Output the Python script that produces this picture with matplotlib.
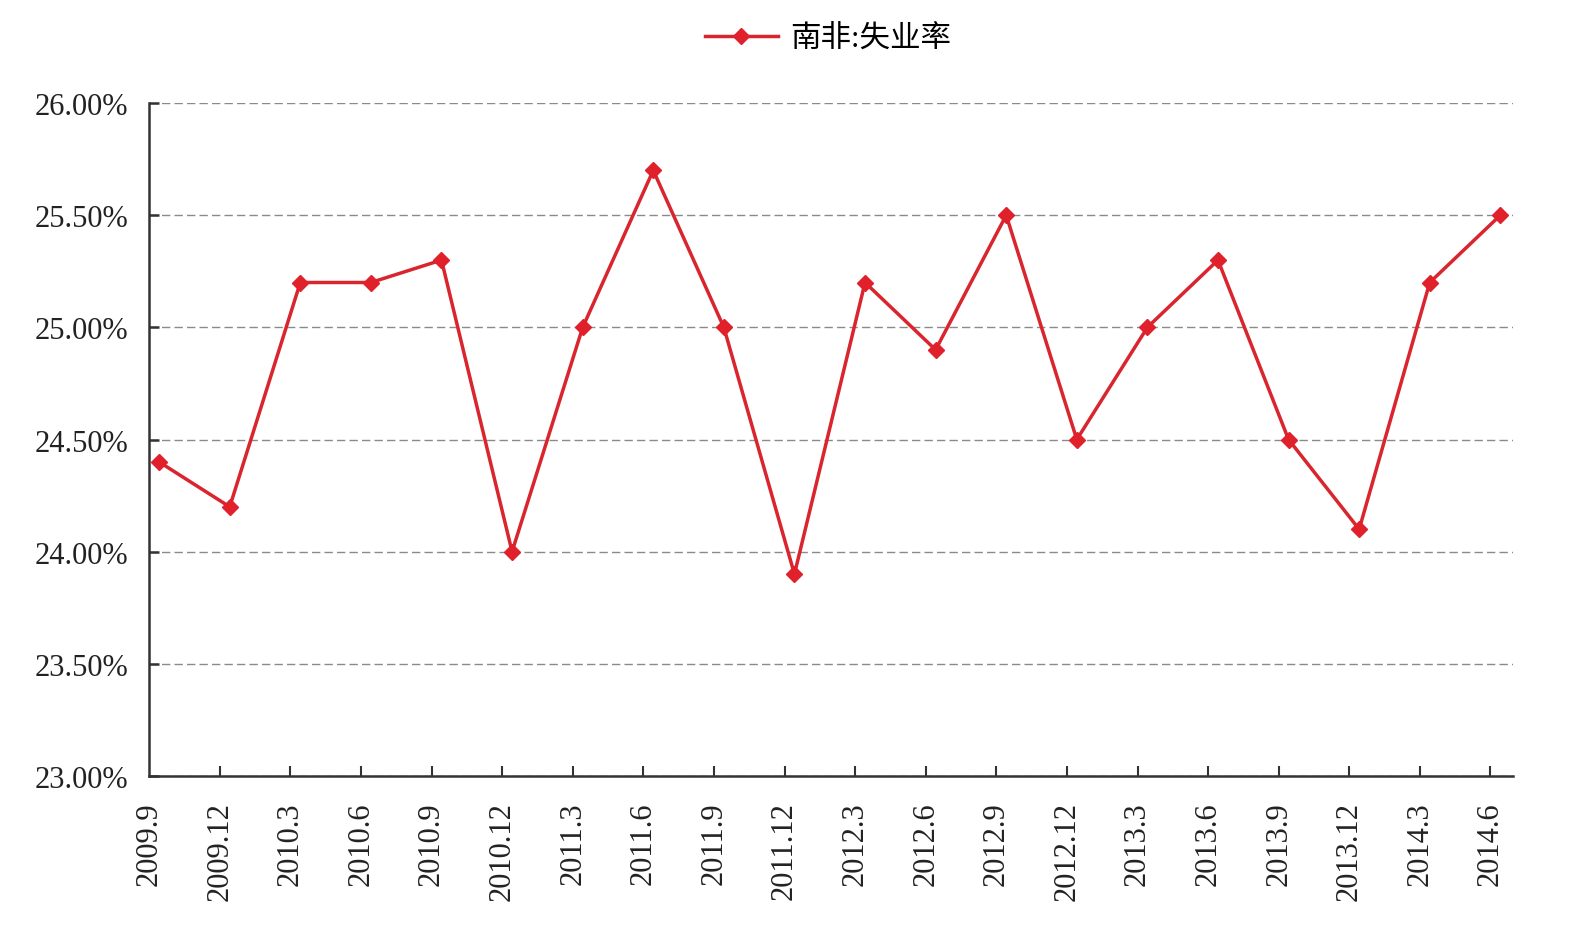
import matplotlib.pyplot as plt
import numpy as np

# Data
quarters = ["2009.9", "2009.12", "2010.3", "2010.6", "2010.9", "2010.12",
            "2011.3", "2011.6", "2011.9", "2011.12", "2012.3", "2012.6",
            "2012.9", "2012.12", "2013.3", "2013.6", "2013.9", "2013.12",
            "2014.3", "2014.6"]
unemployment = [24.4, 24.2, 25.2, 25.2, 25.3, 24.0, 25.0, 25.7, 25.0, 23.9,
                25.2, 24.9, 25.5, 24.5, 25.0, 25.3, 24.5, 24.1, 25.2, 25.5]
y_ticks = [23.0, 23.5, 24.0, 24.5, 25.0, 25.5, 26.0]
series_label = "南非:失业率"

plt.rcParams['font.family'] = ['Liberation Serif', 'Noto Sans CJK SC', 'DejaVu Sans']

fig = plt.figure(figsize=(15.86, 9.29), dpi=100)
ax = fig.add_axes([0.0941, 0.1636, 0.8599, 0.7244])

x = np.arange(len(quarters))
tick_shift = 0.14  # ticks sit slightly left of the data points in the original

ax.plot(x, unemployment, color='#D9252E', linewidth=2.5, marker='D',
        markersize=8, markerfacecolor='#E0202A', markeredgecolor='#E0202A',
        label=series_label, zorder=3)

ax.set_ylim(23.0, 26.0)
ax.set_yticks(y_ticks)
ax.set_yticklabels([f"{v:.2f}%" for v in y_ticks])
ax.set_xlim(-tick_shift, len(quarters) - 0.82)
ax.set_xticks(x - tick_shift)
ax.set_xticklabels(quarters, rotation=90, va='top', ha='center')

ax.grid(axis='y', color='#8a8a8a', linestyle=(0, (6, 3)), linewidth=1.0)
ax.set_axisbelow(True)

for side in ['top', 'right']:
    ax.spines[side].set_visible(False)
for side in ['left', 'bottom']:
    ax.spines[side].set_color('#333333')
    ax.spines[side].set_linewidth(1.8)

ax.tick_params(axis='y', direction='in', length=7, width=1.8, color='#333333',
               labelsize=22, pad=15, labelcolor='#222222')
ax.tick_params(axis='x', direction='in', length=7, width=1.5, color='#333333',
               labelsize=22, pad=18, labelcolor='#222222')
# skip the tick mark at the spine for the first category
ax.xaxis.get_major_ticks()[0].tick1line.set_visible(False)

fig.legend(loc='center', bbox_to_anchor=(0.522, 0.957), frameon=False,
           fontsize=22, handlelength=2.4, handletextpad=0.4)

plt.savefig("out.png", dpi=100)
plt.close()
